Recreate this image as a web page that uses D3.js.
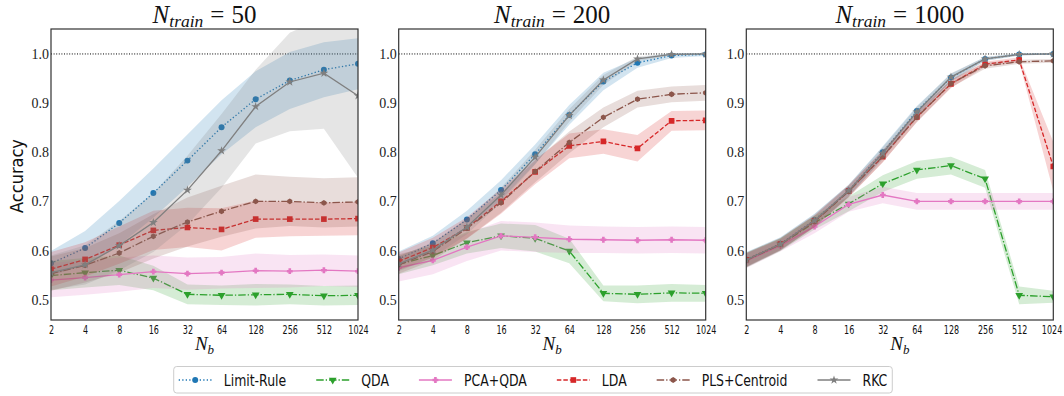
<!DOCTYPE html>
<html>
<head>
<meta charset="utf-8">
<script src="https://cdn.jsdelivr.net/npm/d3@7/dist/d3.min.js"></script>
<style>
  body { margin: 0; background: #fff; }
  text { white-space: pre; }
</style>
</head>
<body>
<script>
const width = 1064, height = 396;

// x values (number of bins) and tick labels
const nb = [2, 4, 8, 16, 32, 64, 128, 256, 512, 1024];
const nbLabels = ["2", "4", "8", "16", "32", "64", "128", "256", "512", "1024"];
const yTicks = [0.5, 0.6, 0.7, 0.8, 0.9, 1.0];
const trainSizes = ["50", "200", "1000"];
const methods = ["Limit-Rule", "QDA", "PCA+QDA", "LDA", "PLS+Centroid", "RKC"];

// N_train = 50
const limitRule50   = [0.574, 0.605, 0.656, 0.717, 0.783, 0.851, 0.908, 0.946, 0.968, 0.980];
const limitRule50Sd = [0.025, 0.035, 0.045, 0.050, 0.053, 0.055, 0.057, 0.058, 0.056, 0.052];
const qda50         = [0.549, 0.555, 0.560, 0.544, 0.511, 0.509, 0.510, 0.511, 0.508, 0.509];
const qda50Sd       = [0.030, 0.030, 0.030, 0.025, 0.020, 0.020, 0.022, 0.020, 0.020, 0.020];
const pcaQda50      = [0.540, 0.545, 0.551, 0.557, 0.553, 0.555, 0.559, 0.558, 0.560, 0.558];
const pcaQda50Sd    = [0.035, 0.035, 0.035, 0.033, 0.033, 0.032, 0.035, 0.033, 0.032, 0.032];
const lda50         = [0.562, 0.582, 0.611, 0.641, 0.647, 0.643, 0.664, 0.664, 0.664, 0.665];
const lda50Sd       = [0.035, 0.035, 0.038, 0.040, 0.040, 0.043, 0.038, 0.035, 0.034, 0.034];
const pls50         = [0.553, 0.570, 0.595, 0.629, 0.658, 0.680, 0.700, 0.700, 0.697, 0.699];
const pls50Sd       = [0.035, 0.035, 0.040, 0.045, 0.050, 0.052, 0.055, 0.050, 0.050, 0.050];
const rkc50         = [0.555, 0.571, 0.610, 0.657, 0.723, 0.803, 0.893, 0.943, 0.961, 0.915];
const rkc50Sd       = [0.035, 0.040, 0.050, 0.060, 0.070, 0.075, 0.075, 0.100, 0.113, 0.167];

// N_train = 200
const limitRule200   = [0.583, 0.615, 0.663, 0.723, 0.796, 0.876, 0.944, 0.982, 0.997, 0.999];
const limitRule200Sd = [0.015, 0.015, 0.018, 0.020, 0.020, 0.020, 0.018, 0.010, 0.005, 0.003];
const qda200         = [0.572, 0.590, 0.616, 0.630, 0.625, 0.599, 0.513, 0.511, 0.514, 0.513];
const qda200Sd       = [0.020, 0.020, 0.022, 0.025, 0.027, 0.025, 0.016, 0.018, 0.018, 0.017];
const pcaQda200      = [0.565, 0.580, 0.607, 0.630, 0.627, 0.623, 0.622, 0.621, 0.622, 0.621];
const pcaQda200Sd    = [0.028, 0.028, 0.028, 0.030, 0.030, 0.028, 0.027, 0.027, 0.027, 0.027];
const lda200         = [0.578, 0.606, 0.646, 0.700, 0.760, 0.813, 0.822, 0.808, 0.864, 0.865];
const lda200Sd       = [0.018, 0.020, 0.022, 0.025, 0.025, 0.025, 0.025, 0.027, 0.020, 0.020];
const pls200         = [0.571, 0.598, 0.645, 0.697, 0.761, 0.820, 0.871, 0.908, 0.918, 0.921];
const pls200Sd       = [0.018, 0.018, 0.020, 0.020, 0.022, 0.022, 0.020, 0.017, 0.016, 0.016];
const rkc200         = [0.573, 0.601, 0.648, 0.713, 0.790, 0.875, 0.947, 0.990, 0.999, 1.000];
const rkc200Sd       = [0.015, 0.015, 0.015, 0.015, 0.015, 0.013, 0.010, 0.005, 0.002, 0.001];

// N_train = 1000
const limitRule1000   = [0.582, 0.614, 0.662, 0.722, 0.800, 0.884, 0.952, 0.990, 0.999, 1.000];
const limitRule1000Sd = [0.015, 0.013, 0.013, 0.012, 0.012, 0.010, 0.008, 0.004, 0.002, 0.001];
const qda1000         = [0.580, 0.612, 0.657, 0.695, 0.736, 0.764, 0.773, 0.746, 0.509, 0.506];
const qda1000Sd       = [0.015, 0.013, 0.014, 0.015, 0.017, 0.018, 0.018, 0.018, 0.018, 0.012];
const pcaQda1000      = [0.579, 0.610, 0.649, 0.694, 0.713, 0.700, 0.700, 0.700, 0.700, 0.700];
const pcaQda1000Sd    = [0.015, 0.012, 0.014, 0.015, 0.017, 0.017, 0.017, 0.017, 0.017, 0.017];
const lda1000         = [0.581, 0.613, 0.660, 0.721, 0.791, 0.872, 0.939, 0.979, 0.988, 0.771];
const lda1000Sd       = [0.014, 0.012, 0.012, 0.012, 0.012, 0.010, 0.008, 0.005, 0.005, 0.050];
const pls1000         = [0.580, 0.612, 0.659, 0.720, 0.792, 0.871, 0.940, 0.976, 0.984, 0.986];
const pls1000Sd       = [0.014, 0.012, 0.012, 0.012, 0.012, 0.010, 0.008, 0.006, 0.004, 0.004];
const rkc1000         = [0.581, 0.613, 0.661, 0.722, 0.798, 0.882, 0.953, 0.990, 0.999, 1.000];
const rkc1000Sd       = [0.015, 0.013, 0.013, 0.012, 0.012, 0.010, 0.008, 0.004, 0.002, 0.001];

const panelData = [
	[[limitRule50, limitRule50Sd], [qda50, qda50Sd], [pcaQda50, pcaQda50Sd], [lda50, lda50Sd], [pls50, pls50Sd], [rkc50, rkc50Sd]],
	[[limitRule200, limitRule200Sd], [qda200, qda200Sd], [pcaQda200, pcaQda200Sd], [lda200, lda200Sd], [pls200, pls200Sd], [rkc200, rkc200Sd]],
	[[limitRule1000, limitRule1000Sd], [qda1000, qda1000Sd], [pcaQda1000, pcaQda1000Sd], [lda1000, lda1000Sd], [pls1000, pls1000Sd], [rkc1000, rkc1000Sd]]
];

// styles
const colors = ["#1f77b4", "#2ca02c", "#e377c2", "#d62728", "#8c564b", "#7f7f7f"];
const dashes = ["1.3,2.2", "7.5,2,1.3,2", null, "4.5,2", "7.5,2,1.3,2", null];
const sansFont = "'Liberation Sans Narrow', 'DejaVu Sans Condensed', 'DejaVu Sans', sans-serif";
const serifFont = "'Liberation Serif', 'DejaVu Serif', serif";

// custom marker shapes
const symbolHexagon = {
	draw(ctx, size) {
		const r = Math.sqrt(size / (1.5 * Math.sqrt(3)));
		for (let i = 0; i < 6; i++) {
			const a = Math.PI / 6 + i * Math.PI / 3;
			if (i == 0) ctx.moveTo(r * Math.cos(a), r * Math.sin(a));
			else ctx.lineTo(r * Math.cos(a), r * Math.sin(a));
		}
		ctx.closePath();
	}
};
const symbolFatPlus = {
	draw(ctx, size) {
		const w = Math.sqrt(size) / 2, t = w * 0.45;
		ctx.moveTo(-t, -w); ctx.lineTo(t, -w); ctx.lineTo(t, -t); ctx.lineTo(w, -t);
		ctx.lineTo(w, t); ctx.lineTo(t, t); ctx.lineTo(t, w); ctx.lineTo(-t, w);
		ctx.lineTo(-t, t); ctx.lineTo(-w, t); ctx.lineTo(-w, -t); ctx.lineTo(-t, -t);
		ctx.closePath();
	}
};
const symbols = [
	{type: d3.symbolCircle, size: 28, rot: 0},
	{type: d3.symbolTriangle, size: 26, rot: 180},
	{type: symbolFatPlus, size: 34, rot: 0},
	{type: d3.symbolSquare, size: 32, rot: 0},
	{type: symbolHexagon, size: 22, rot: 0},
	{type: d3.symbolStar, size: 24, rot: 0}
];

const panelLeft = [51, 398.7, 746.3];
const panelTop = 29, panelW = 307, panelH = 291;

const x = d3.scaleLog().base(2).domain([2, 1024]).range([0, panelW]);
const y = d3.scaleLinear().domain([0.4587, 1.0508]).range([panelH, 0]);

const svg = d3.select("body")
				.append("svg")
				.attr("width", width)
				.attr("height", height)
				.style("font-family", sansFont);

// squeeze a sans text to a narrower width, the reference font is a narrow one
function narrow(sel, factor) {
	sel.each(function() {
		const w = this.getComputedTextLength();
		d3.select(this).attr("textLength", w * factor).attr("lengthAdjust", "spacingAndGlyphs");
	});
}

function drawPanel(p) {
	const g = svg.append("g").attr("transform", `translate(${panelLeft[p]},${panelTop})`);

	g.append("clipPath").attr("id", "clip" + p)
		.append("rect").attr("width", panelW).attr("height", panelH);
	const plot = g.append("g").attr("clip-path", `url(#clip${p})`);

	// reference line at 1.0
	plot.append("line")
		.attr("x1", 0).attr("x2", panelW)
		.attr("y1", y(1)).attr("y2", y(1))
		.attr("stroke", "#000").attr("stroke-width", 1)
		.attr("stroke-dasharray", "1,1.6");

	panelData[p].forEach((s, i) => {
		const [mean, sd] = s;
		const pts = nb.map((n, k) => ({n: n, m: mean[k], s: sd[k]}));

		const area = d3.area().x(d => x(d.n)).y0(d => y(d.m - d.s)).y1(d => y(d.m + d.s));
		plot.append("path").datum(pts)
			.attr("d", area)
			.attr("fill", colors[i]).attr("fill-opacity", 0.2);

		const line = d3.line().x(d => x(d.n)).y(d => y(d.m));
		plot.append("path").datum(pts)
			.attr("d", line)
			.attr("fill", "none")
			.attr("stroke", colors[i]).attr("stroke-width", 1.3)
			.attr("stroke-dasharray", dashes[i]);

		const sym = d3.symbol().type(symbols[i].type).size(symbols[i].size);
		plot.selectAll(null).data(pts).enter()
			.append("path")
			.attr("d", sym)
			.attr("transform", d => `translate(${x(d.n)},${y(d.m)}) rotate(${symbols[i].rot})`)
			.attr("fill", colors[i]);
	});

	// frame
	g.append("rect").attr("width", panelW).attr("height", panelH)
		.attr("fill", "none").attr("stroke", "#333").attr("stroke-width", 1.2);

	// y axis
	const yAxis = d3.axisLeft(y).tickValues(yTicks).tickFormat(d3.format(".1f")).tickSize(0).tickPadding(2);
	const ya = g.append("g").call(yAxis);
	ya.select(".domain").remove();
	ya.selectAll("text").attr("font-family", serifFont).attr("font-size", 14).attr("fill", "#222");

	// x axis
	const xAxis = d3.axisBottom(x).tickValues(nb).tickFormat((d, k) => nbLabels[k]).tickSize(0).tickPadding(6);
	const xa = g.append("g").attr("transform", `translate(0,${panelH})`).call(xAxis);
	xa.select(".domain").remove();
	xa.selectAll("text").attr("font-family", sansFont).attr("font-size", 11.6).attr("fill", "#111");
	narrow(xa.selectAll("text"), 0.77);
	if (p == 2) {
		// last label sits on the page edge: anchor it at its end
		xa.selectAll("text").filter((d, k) => k == nb.length - 1)
			.attr("text-anchor", "end").attr("x", 8.5);
	}

	// title
	const t = g.append("text")
		.attr("x", panelW / 2).attr("y", 22.7 - panelTop)
		.attr("text-anchor", "middle")
		.attr("font-family", serifFont).attr("font-size", 25).attr("fill", "#111");
	t.append("tspan").attr("font-style", "italic").text("N");
	t.append("tspan").attr("font-style", "italic").attr("font-size", 17.5).attr("dy", 4).text("train");
	t.append("tspan").attr("dy", -4).attr("dx", 7).text("=");
	t.append("tspan").attr("dx", 7).text(trainSizes[p]);

	// x label
	const xl = g.append("text")
		.attr("x", panelW / 2).attr("y", 350 - panelTop)
		.attr("text-anchor", "middle")
		.attr("font-family", serifFont).attr("font-size", 19).attr("fill", "#111");
	xl.append("tspan").attr("font-style", "italic").text("N");
	xl.append("tspan").attr("font-style", "italic").attr("font-size", 13).attr("dy", 4).text("b");
}

for (let p = 0; p < 3; p++) drawPanel(p);

// y label
svg.append("text")
	.attr("transform", "translate(23,176) rotate(-90)")
	.attr("text-anchor", "middle")
	.attr("font-family", sansFont).attr("font-size", 18).attr("fill", "#111")
	.text("Accuracy");

// legend
function drawLegend() {
	const lg = svg.append("g");
	const box = lg.append("rect")
		.attr("y", 366.5).attr("height", 26.5).attr("rx", 3)
		.attr("fill", "#fff").attr("stroke", "#ccc").attr("stroke-width", 1);
	const handleLen = 33, textPad = 12, colGap = 30, midY = 380;
	let cx = 0;
	const items = [];
	methods.forEach((name, i) => {
		const it = lg.append("g");
		it.append("line").attr("x1", cx).attr("x2", cx + handleLen)
			.attr("y1", midY).attr("y2", midY)
			.attr("stroke", colors[i]).attr("stroke-width", 1.3)
			.attr("stroke-dasharray", dashes[i]);
		it.append("path")
			.attr("d", d3.symbol().type(symbols[i].type).size(symbols[i].size)())
			.attr("transform", `translate(${cx + handleLen / 2},${midY}) rotate(${symbols[i].rot})`)
			.attr("fill", colors[i]);
		const tx = it.append("text")
			.attr("x", cx + handleLen + textPad).attr("y", midY)
			.attr("dy", "0.35em")
			.attr("font-size", 16.5).attr("fill", "#111")
			.text(name);
		narrow(tx, 0.84);
		cx += handleLen + textPad + tx.node().getComputedTextLength() + colGap;
		items.push(it);
	});
	const contentW = cx - colGap;
	const boxW = contentW + 10;
	const boxX = 533 - boxW / 2;
	box.attr("x", boxX).attr("width", boxW);
	items.forEach(it => it.attr("transform", `translate(${boxX + 5},0)`));
}
drawLegend();
</script>
</body>
</html>
